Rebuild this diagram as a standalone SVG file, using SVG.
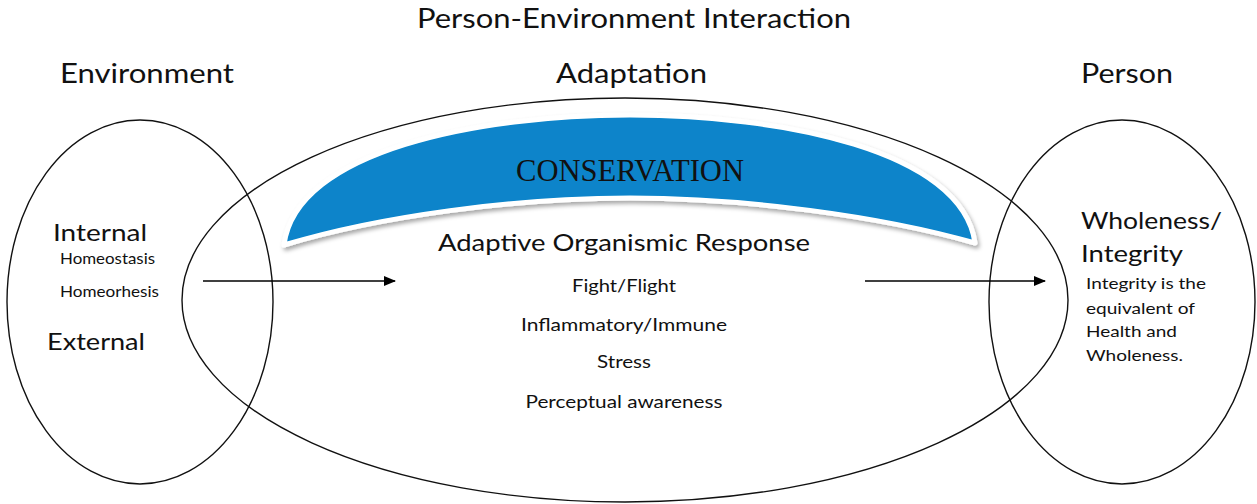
<svg xmlns="http://www.w3.org/2000/svg" width="1257" height="504" viewBox="0 0 1257 504">
<style>
.ring{fill:none;stroke:#111;stroke-width:1.4}
.t{font-family:Lato,"Open Sans","Liberation Sans",sans-serif;fill:#111}
.c{text-anchor:middle}
.conn{stroke:#000;stroke-width:1.3;fill:none}
</style>
<defs>
<marker id="ah" markerWidth="12" markerHeight="10" refX="11" refY="5" orient="auto" markerUnits="userSpaceOnUse">
<path d="M0,0 L12,5 L0,10 Z" fill="#000"/>
</marker>
<filter id="sh" x="-5%" y="-10%" width="110%" height="130%">
<feDropShadow dx="2" dy="3" stdDeviation="2" flood-color="#000" flood-opacity="0.35"/>
</filter>
</defs>
<rect width="1257" height="504" fill="#fff"/>
<text class="t c" x="634" y="28" font-size="26" textLength="434" lengthAdjust="spacingAndGlyphs">Person-Environment Interaction</text>
<g id="environment">
<ellipse class="ring" cx="140" cy="302" rx="133" ry="182"/>
<text class="t" x="60" y="83" font-size="26" textLength="174" lengthAdjust="spacingAndGlyphs">Environment</text>
<text class="t" x="53" y="241" font-size="24" textLength="94" lengthAdjust="spacingAndGlyphs">Internal</text>
<text class="t" x="60" y="264" font-size="15" textLength="95" lengthAdjust="spacingAndGlyphs">Homeostasis</text>
<text class="t" x="60" y="297" font-size="15" textLength="99" lengthAdjust="spacingAndGlyphs">Homeorhesis</text>
<text class="t" x="47" y="350" font-size="24" textLength="98" lengthAdjust="spacingAndGlyphs">External</text>
</g>
<g id="adaptation">
<ellipse class="ring" cx="625" cy="300" rx="443" ry="202"/>
<text class="t" x="556" y="83" font-size="26" textLength="151" lengthAdjust="spacingAndGlyphs">Adaptation</text>
<text class="t c" x="624" y="251" font-size="24" textLength="372" lengthAdjust="spacingAndGlyphs">Adaptive Organismic Response</text>
<text class="t c" x="624" y="292" font-size="18" textLength="104" lengthAdjust="spacingAndGlyphs">Fight/Flight</text>
<text class="t c" x="624" y="331" font-size="18" textLength="206" lengthAdjust="spacingAndGlyphs">Inflammatory/Immune</text>
<text class="t c" x="624" y="368" font-size="18" textLength="54" lengthAdjust="spacingAndGlyphs">Stress</text>
<text class="t c" x="624" y="408" font-size="18" textLength="197" lengthAdjust="spacingAndGlyphs">Perceptual awareness</text>
</g>
<g id="conservation">
<path d="M284,245 C296,150 480,115 630,115 C780,115 962,150 975,243 C880,216 745,198 630,198 C515,198 380,216 284,245 Z" fill="#0884CA" stroke="#fff" stroke-width="5" stroke-linejoin="round" filter="url(#sh)"/>
<text x="630" y="181" text-anchor="middle" font-family="'Liberation Serif',serif" font-size="32" fill="#111" textLength="228" lengthAdjust="spacingAndGlyphs">CONSERVATION</text>
</g>
<g id="person">
<ellipse class="ring" cx="1122" cy="302" rx="133" ry="182"/>
<text class="t" x="1081" y="83" font-size="26" textLength="92" lengthAdjust="spacingAndGlyphs">Person</text>
<text class="t" x="1081" y="229" font-size="24" textLength="141" lengthAdjust="spacingAndGlyphs">Wholeness/</text>
<text class="t" x="1081" y="262" font-size="24" textLength="102" lengthAdjust="spacingAndGlyphs">Integrity</text>
<text class="t" x="1086" y="289" font-size="16" textLength="120" lengthAdjust="spacingAndGlyphs">Integrity is the</text>
<text class="t" x="1086" y="314" font-size="16" textLength="109" lengthAdjust="spacingAndGlyphs">equivalent of</text>
<text class="t" x="1086" y="337" font-size="16" textLength="91" lengthAdjust="spacingAndGlyphs">Health and</text>
<text class="t" x="1086" y="361" font-size="16" textLength="97" lengthAdjust="spacingAndGlyphs">Wholeness.</text>
</g>
<g id="connectors">
<line class="conn" x1="203" y1="281" x2="395" y2="281" marker-end="url(#ah)"/>
<line class="conn" x1="865" y1="281" x2="1045" y2="281" marker-end="url(#ah)"/>
</g>
</svg>
